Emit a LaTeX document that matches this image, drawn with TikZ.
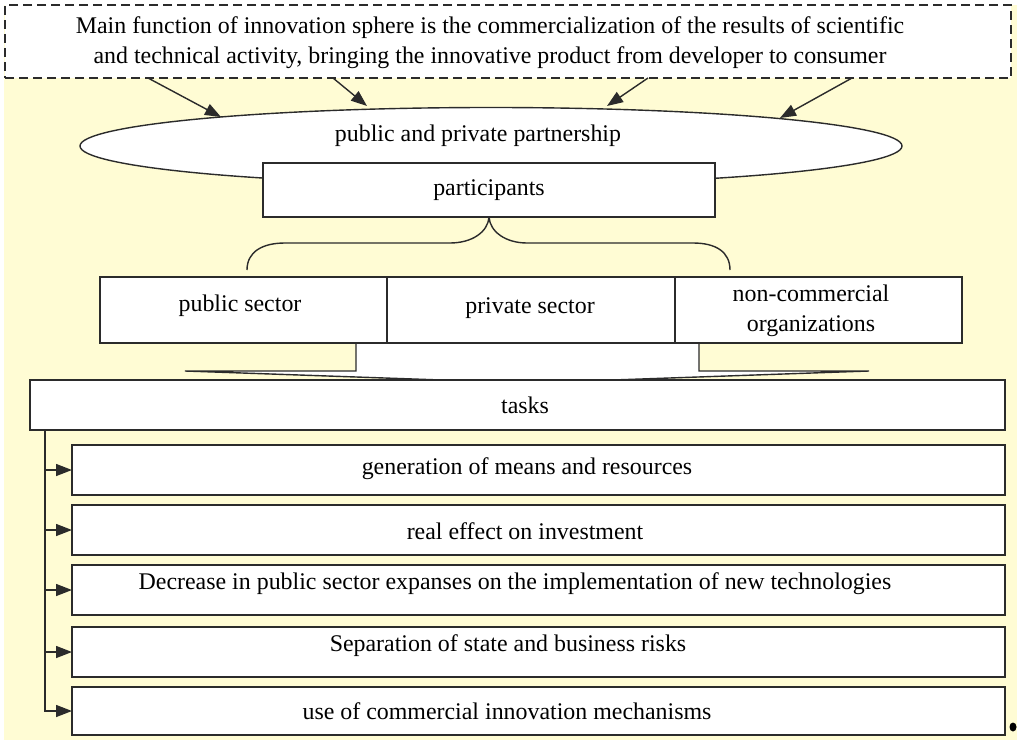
\documentclass[tikz,border=0pt]{standalone}
\usepackage{fontspec}
\setmainfont{Liberation Serif}
\usetikzlibrary{shapes.geometric,arrows.meta}
\definecolor{bgyellow}{HTML}{FFFCD4}
\definecolor{ln}{HTML}{2B2B2B}
\begin{document}
\begin{tikzpicture}[x=1pt,y=-1pt,
  txt/.style={font=\fontsize{23.9}{30}\selectfont, inner sep=0pt, align=center, text=black},
  box/.style={draw=ln, line width=1.4pt, fill=white, inner sep=0pt, outer sep=0pt},
  dashbox/.style={box, dash pattern=on 9pt off 5pt},
  arr/.style={draw=ln, line width=1.4pt, -{Triangle[length=16pt,width=12pt]}},
  ln/.style={draw=ln, line width=1.4pt},
]
\useasboundingbox (0,0) rectangle (1017,749);
\fill[bgyellow] (4,5) rectangle (1017,740);

% top dashed box
\node[dashbox, minimum width=1006pt, minimum height=73pt] (main) at (508,41.5) {};
\node[txt] (maintxt) at (490,43) {Main function of innovation sphere is the commercialization of the results of scientific\\and technical activity, bringing the innovative product from developer to consumer};

% ellipse
\node[box, ellipse, minimum width=822pt, minimum height=77pt] (ppp) at (491,146) {};
\node[txt] (ppptxt) at (478,136) {public and private partnership};

% arrows from main box to ellipse
\coordinate (s1) at (148,78); \coordinate (e1) at (221,117);
\coordinate (s2) at (333,78); \coordinate (e2) at (367,106);
\coordinate (s3) at (648,78); \coordinate (e3) at (607,106);
\coordinate (s4) at (852,78); \coordinate (e4) at (780,118);
\draw[arr] (s1) -- (e1);
\draw[arr] (s2) -- (e2);
\draw[arr] (s3) -- (e3);
\draw[arr] (s4) -- (e4);

% participants
\node[box, minimum width=452pt, minimum height=54pt] (part) at (489,190) {};
\node[txt] (parttxt) at (489,190) {participants};

% brace
\draw[ln] (247,270) .. controls (247,252) and (262,243) .. (285,243) -- (450,243)
  .. controls (472,243) and (488,232) .. (part.south);
\draw[ln] (part.south) .. controls (490,232) and (506,243) .. (527,243) -- (693,243)
  .. controls (716,243) and (730,252) .. (730,270);

% block arrow below sectors
\fill[white] (356,343) -- (356,371) -- (185,371) -- (527,383) -- (869,371) -- (699,371) -- (699,343) -- cycle;
\draw[ln] (356,343) -- (356,371) -- (185,371) -- (527,383) -- (869,371) -- (699,371) -- (699,343);

% sectors
\node[box, minimum width=287pt, minimum height=66pt] (pub) at (243.5,310) {};
\node[box, minimum width=288pt, minimum height=66pt] (priv) at (531,310) {};
\node[box, minimum width=287pt, minimum height=66pt] (ncom) at (818.5,310) {};
\node[txt] (pubtxt) at (240,306) {public sector};
\node[txt] (privtxt) at (530,308) {private sector};
\node[txt] (ncomtxt) at (811,311) {non-commercial\\organizations};

% tasks
\node[box, minimum width=975pt, minimum height=50pt] (tasks) at (517.5,405) {};
\node[txt] (taskstxt) at (525,405) {tasks};

\node[box, minimum width=933pt, minimum height=50pt] (i1) at (538.5,470) {};
\node[box, minimum width=933pt, minimum height=50pt] (i2) at (538.5,530) {};
\node[box, minimum width=933pt, minimum height=50pt] (i3) at (538.5,590) {};
\node[box, minimum width=933pt, minimum height=50pt] (i4) at (538.5,652) {};
\node[box, minimum width=933pt, minimum height=48pt] (i5) at (538.5,711) {};
\node[txt] (t1) at (527,469) {generation of means and resources};
\node[txt] (t2) at (525,531) {real effect on investment};
\node[txt] (t3) at (515,584) {Decrease in public sector expanses on the implementation of new technologies};
\node[txt] (t4) at (508,646) {Separation of state and business risks};
\node[txt] (t5) at (507,711) {use of commercial innovation mechanisms};

\coordinate (trunk) at (45,430);
\draw[arr] (trunk) |- (i5.west);
\draw[arr] (trunk |- i1.west) -- (i1.west);
\draw[arr] (trunk |- i2.west) -- (i2.west);
\draw[arr] (trunk |- i3.west) -- (i3.west);
\draw[arr] (trunk |- i4.west) -- (i4.west);

% stray dot
\fill[black] (1013,727) ellipse (3.5pt and 4.5pt);
\end{tikzpicture}
\end{document}
